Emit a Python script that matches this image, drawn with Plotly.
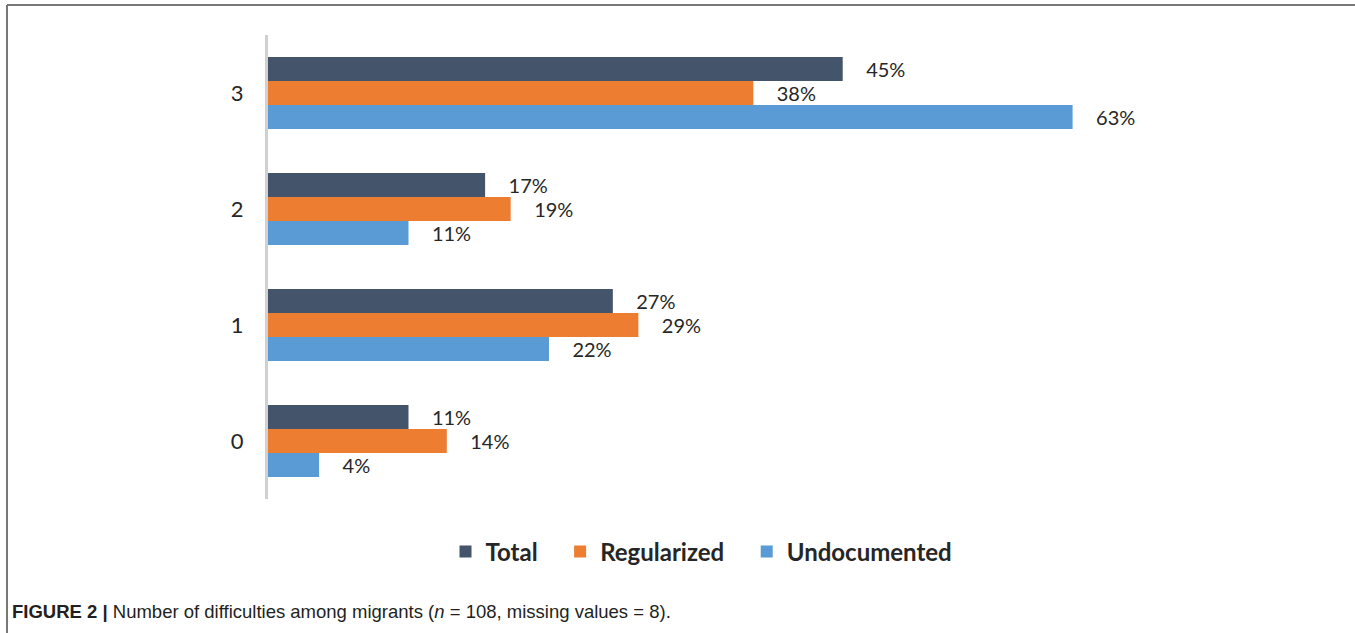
import plotly.graph_objects as go

categories = [0, 1, 2, 3]
total = [11, 27, 17, 45]
regularized = [14, 29, 19, 38]
undocumented = [4, 22, 11, 63]

W, H = 1355, 633
L, R, T, B = 268, 193, 35, 134
pw = W - L - R
ph = H - T - B

def px_x(x):
    return (x - L) / pw

def px_y(y):
    return (H - B - y) / ph

font_main = "Lato, Carlito, Open Sans, sans-serif"
NB = "\u00a0"

fig = go.Figure()
series = [
    ("Undocumented", undocumented, "#5B9BD5"),
    ("Regularized", regularized, "#ED7D31"),
    ("Total", total, "#44546A"),
]
for name, vals, col in series:
    fig.add_trace(go.Bar(
        name=name + NB * 3, y=categories, x=vals, orientation="h",
        marker=dict(color=col, line=dict(width=0)),
        texttemplate=NB * 4 + "%{x}%", textposition="outside",
        textfont=dict(size=20, color="#262626", family=font_main),
        cliponaxis=False,
    ))

fig.update_layout(
    width=W, height=H,
    margin=dict(l=L, r=R, t=T, b=B),
    paper_bgcolor="white", plot_bgcolor="white",
    barmode="group", bargap=0.38, bargroupgap=0,
    showlegend=True,
    legend=dict(
        orientation="h", traceorder="reversed",
        x=px_x(710), xanchor="center", y=px_y(552), yanchor="middle",
        font=dict(size=24, color="#262626", family=font_main, weight="bold"),
        itemwidth=30,
    ),
    xaxis=dict(range=[0, 70], showgrid=False, zeroline=False, showticklabels=False,
               showline=False),
    yaxis=dict(range=[-0.5, 3.5], tickvals=categories, ticktext=[str(c) for c in categories],
               showgrid=False, zeroline=False, showline=True, linecolor="#D0D0D0",
               linewidth=3, ticklabelstandoff=17,
               tickfont=dict(size=22, color="#262626", family=font_main)),
    font=dict(family=font_main),
)

fig.add_shape(type="line", xref="paper", yref="paper",
              x0=px_x(7), x1=px_x(1360), y0=px_y(5), y1=px_y(5),
              line=dict(color="#777777", width=2))
fig.add_shape(type="line", xref="paper", yref="paper",
              x0=px_x(7), x1=px_x(7), y0=px_y(5), y1=px_y(640),
              line=dict(color="#777777", width=2))

fig.add_annotation(
    xref="paper", yref="paper", x=px_x(10), y=px_y(611),
    xanchor="left", yanchor="middle", showarrow=False,
    text="<b>FIGURE 2 |</b> Number of difficulties among migrants (<i>n</i> = 108, missing values = 8).",
    font=dict(size=18.5, color="#231F20", family="Liberation Sans, Arial, sans-serif"),
)

fig.write_html("out.html", config={"displayModeBar": False},
               post_script="document.body.style.margin='0';document.body.style.overflow='hidden';")
